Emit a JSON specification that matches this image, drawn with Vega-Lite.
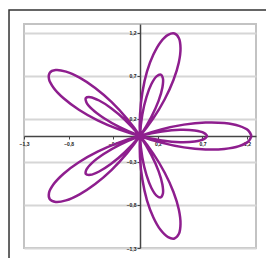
{
  "$schema": "https://vega.github.io/schema/vega-lite/v6.json",
  "width": 232,
  "height": 224,
  "autosize": {"type": "none"},
  "padding": {"left": 24, "top": 24, "right": 10, "bottom": 10},
  "background": "white",
  "config": {
    "view": {"stroke": "#c3c3c3", "strokeWidth": 2},
    "axis": {
      "labelFont": "Liberation Sans",
      "labelFontSize": 5,
      "labelFontWeight": "bold",
      "labelColor": "#222",
      "tickSize": 3,
      "tickColor": "#444",
      "domainColor": "#444",
      "domainWidth": 1.5,
      "labelFlush": false,
      "labelOverlap": false
    }
  },
  "encoding": {
    "x": {
      "field": "x", "type": "quantitative",
      "scale": {"domain": [-1.3, 1.3], "nice": false, "zero": false},
      "axis": {
        "values": [-1.3, -0.8, -0.3, 0.2, 0.7, 1.2],
        "grid": false, "title": null,
        "offset": {"expr": "-(height - scale('y', 0))"},
        "labelPadding": 2,
        "labelExpr": "replace(format(datum.value, '.1f'), '.', ',')"
      }
    },
    "y": {
      "field": "y", "type": "quantitative",
      "scale": {"domain": [-1.3, 1.3], "nice": false, "zero": false},
      "axis": {
        "values": [-1.3, -0.8, -0.3, 0.2, 0.7, 1.2],
        "grid": true, "gridColor": "#d6d6d6", "gridWidth": 2,
        "title": null,
        "offset": {"expr": "-scale('x', 0)"},
        "labelPadding": 1,
        "labelExpr": "replace(format(datum.value, '.1f'), '.', ',')"
      }
    }
  },
  "layer": [
    {
      "data": {"values": [{"x": -1.468, "y": 1.462, "x2": 1.8, "y2": -1.8}]},
      "mark": {"type": "rect", "fillOpacity": 0, "stroke": "#333", "strokeWidth": 1.5, "clip": false},
      "encoding": {"x2": {"field": "x2"}, "y2": {"field": "y2"}}
    },
    {
      "data": {"values": [
        {"i":0,"x":1.25,"y":0},
        {"i":1,"x":1.214,"y":0.064},
        {"i":2,"x":1.110,"y":0.117},
        {"i":3,"x":0.945,"y":0.150},
        {"i":4,"x":0.734,"y":0.156},
        {"i":5,"x":0.492,"y":0.132},
        {"i":6,"x":0.238,"y":0.077},
        {"i":7,"x":-0.008,"y":-0.003},
        {"i":8,"x":-0.228,"y":-0.102},
        {"i":9,"x":-0.407,"y":-0.208},
        {"i":10,"x":-0.534,"y":-0.308},
        {"i":11,"x":-0.600,"y":-0.390},
        {"i":12,"x":-0.607,"y":-0.441},
        {"i":13,"x":-0.556,"y":-0.451},
        {"i":14,"x":-0.458,"y":-0.412},
        {"i":15,"x":-0.323,"y":-0.323},
        {"i":16,"x":-0.167,"y":-0.186},
        {"i":17,"x":-0.006,"y":-0.007},
        {"i":18,"x":0.147,"y":0.202},
        {"i":19,"x":0.277,"y":0.427},
        {"i":20,"x":0.375,"y":0.650},
        {"i":21,"x":0.435,"y":0.853},
        {"i":22,"x":0.454,"y":1.020},
        {"i":23,"x":0.436,"y":1.135},
        {"i":24,"x":0.386,"y":1.189},
        {"i":25,"x":0.315,"y":1.174},
        {"i":26,"x":0.232,"y":1.092},
        {"i":27,"x":0.150,"y":0.945},
        {"i":28,"x":0.078,"y":0.746},
        {"i":29,"x":0.027,"y":0.508},
        {"i":30,"x":0,"y":0.25},
        {"i":31,"x":0.000,"y":-0.009},
        {"i":32,"x":0.026,"y":-0.249},
        {"i":33,"x":0.072,"y":-0.452},
        {"i":34,"x":0.128,"y":-0.603},
        {"i":35,"x":0.185,"y":-0.692},
        {"i":36,"x":0.232,"y":-0.713},
        {"i":37,"x":0.257,"y":-0.668},
        {"i":38,"x":0.251,"y":-0.563},
        {"i":39,"x":0.208,"y":-0.407},
        {"i":40,"x":0.125,"y":-0.217},
        {"i":41,"x":0.005,"y":-0.007},
        {"i":42,"x":-0.147,"y":0.202},
        {"i":43,"x":-0.320,"y":0.395},
        {"i":44,"x":-0.502,"y":0.557},
        {"i":45,"x":-0.677,"y":0.677},
        {"i":46,"x":-0.829,"y":0.747},
        {"i":47,"x":-0.945,"y":0.765},
        {"i":48,"x":-1.011,"y":0.735},
        {"i":49,"x":-1.020,"y":0.662},
        {"i":50,"x":-0.967,"y":0.558},
        {"i":51,"x":-0.853,"y":0.435},
        {"i":52,"x":-0.685,"y":0.305},
        {"i":53,"x":-0.475,"y":0.182},
        {"i":54,"x":-0.238,"y":0.077},
        {"i":55,"x":0.009,"y":-0.002},
        {"i":56,"x":0.245,"y":-0.052},
        {"i":57,"x":0.452,"y":-0.072},
        {"i":58,"x":0.613,"y":-0.064},
        {"i":59,"x":0.715,"y":-0.037},
        {"i":60,"x":0.75,"y":0},
        {"i":61,"x":0.715,"y":0.037},
        {"i":62,"x":0.613,"y":0.064},
        {"i":63,"x":0.452,"y":0.072},
        {"i":64,"x":0.245,"y":0.052},
        {"i":65,"x":0.009,"y":0.002},
        {"i":66,"x":-0.238,"y":-0.077},
        {"i":67,"x":-0.475,"y":-0.182},
        {"i":68,"x":-0.685,"y":-0.305},
        {"i":69,"x":-0.853,"y":-0.435},
        {"i":70,"x":-0.967,"y":-0.558},
        {"i":71,"x":-1.020,"y":-0.662},
        {"i":72,"x":-1.011,"y":-0.735},
        {"i":73,"x":-0.945,"y":-0.765},
        {"i":74,"x":-0.829,"y":-0.747},
        {"i":75,"x":-0.677,"y":-0.677},
        {"i":76,"x":-0.502,"y":-0.557},
        {"i":77,"x":-0.320,"y":-0.395},
        {"i":78,"x":-0.147,"y":-0.202},
        {"i":79,"x":0.005,"y":0.007},
        {"i":80,"x":0.125,"y":0.217},
        {"i":81,"x":0.208,"y":0.407},
        {"i":82,"x":0.251,"y":0.563},
        {"i":83,"x":0.257,"y":0.668},
        {"i":84,"x":0.232,"y":0.713},
        {"i":85,"x":0.185,"y":0.692},
        {"i":86,"x":0.128,"y":0.603},
        {"i":87,"x":0.072,"y":0.452},
        {"i":88,"x":0.026,"y":0.249},
        {"i":89,"x":0.000,"y":0.009},
        {"i":90,"x":0,"y":-0.25},
        {"i":91,"x":0.027,"y":-0.508},
        {"i":92,"x":0.078,"y":-0.746},
        {"i":93,"x":0.150,"y":-0.945},
        {"i":94,"x":0.232,"y":-1.092},
        {"i":95,"x":0.315,"y":-1.174},
        {"i":96,"x":0.386,"y":-1.189},
        {"i":97,"x":0.436,"y":-1.135},
        {"i":98,"x":0.454,"y":-1.020},
        {"i":99,"x":0.435,"y":-0.853},
        {"i":100,"x":0.375,"y":-0.650},
        {"i":101,"x":0.277,"y":-0.427},
        {"i":102,"x":0.147,"y":-0.202},
        {"i":103,"x":-0.006,"y":0.007},
        {"i":104,"x":-0.167,"y":0.186},
        {"i":105,"x":-0.323,"y":0.323},
        {"i":106,"x":-0.458,"y":0.412},
        {"i":107,"x":-0.556,"y":0.451},
        {"i":108,"x":-0.607,"y":0.441},
        {"i":109,"x":-0.600,"y":0.390},
        {"i":110,"x":-0.534,"y":0.308},
        {"i":111,"x":-0.407,"y":0.208},
        {"i":112,"x":-0.228,"y":0.102},
        {"i":113,"x":-0.008,"y":0.003},
        {"i":114,"x":0.238,"y":-0.077},
        {"i":115,"x":0.492,"y":-0.132},
        {"i":116,"x":0.734,"y":-0.156},
        {"i":117,"x":0.945,"y":-0.150},
        {"i":118,"x":1.110,"y":-0.117},
        {"i":119,"x":1.214,"y":-0.064},
        {"i":120,"x":1.25,"y":0}
      ]},
      "mark": {"type": "line", "color": "#8E1E8E", "strokeWidth": 2.5, "interpolate": "catmull-rom"},
      "encoding": {"order": {"field": "i", "type": "quantitative"}}
    }
  ]
}
